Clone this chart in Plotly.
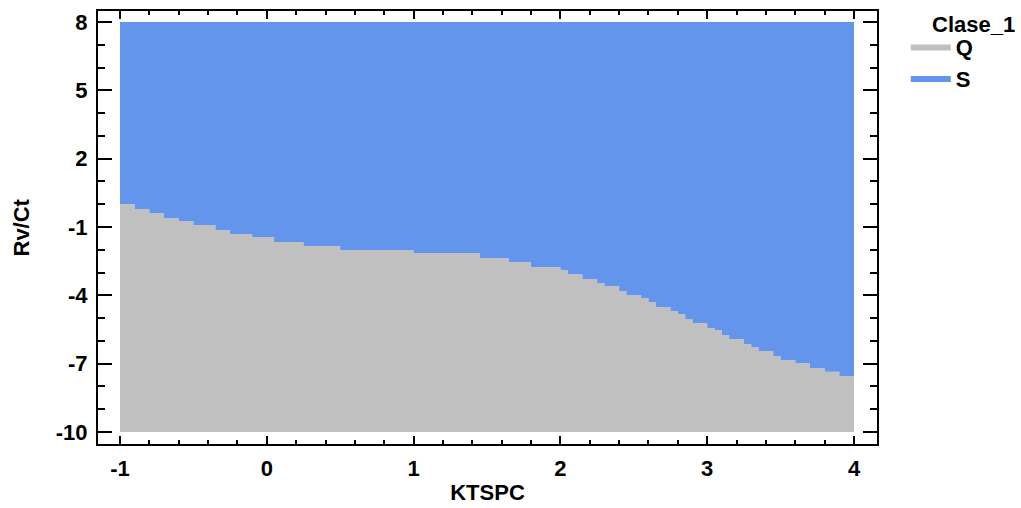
import plotly.graph_objects as go

# Decision boundary between classes (step edges along KTSPC, boundary Rv/Ct per step)
x_edges = [-1.0, -0.9, -0.8, -0.7, -0.6, -0.5, -0.35, -0.25, -0.1, 0.05, 0.25, 0.5, 1.0,
           1.45, 1.65, 1.8, 2.0, 2.05, 2.15, 2.25, 2.3, 2.4, 2.45, 2.55, 2.6, 2.65, 2.75,
           2.8, 2.85, 2.9, 3.0, 3.05, 3.1, 3.15, 3.25, 3.3, 3.35, 3.45, 3.5, 3.6, 3.7,
           3.8, 3.9, 4.0]
y_bound = [0.01, -0.21, -0.38, -0.60, -0.74, -0.91, -1.13, -1.31, -1.44, -1.66, -1.83,
           -2.01, -2.14, -2.36, -2.54, -2.76, -2.89, -3.06, -3.28, -3.46, -3.59, -3.81,
           -3.98, -4.12, -4.29, -4.51, -4.69, -4.82, -5.04, -5.21, -5.43, -5.52, -5.74,
           -5.92, -6.14, -6.27, -6.44, -6.66, -6.84, -6.97, -7.19, -7.36, -7.54]
x_min, x_max = -1.0, 4.0
y_min, y_max = -10.0, 8.0
classes = ["Q", "S"]
colors = {"Q": "#c0c0c0", "S": "#6495ed"}
x_ticks = [-1, 0, 1, 2, 3, 4]
y_ticks = [-10, -7, -4, -1, 2, 5, 8]

# Build step path of boundary
step_x, step_y = [], []
for i, yb in enumerate(y_bound):
    step_x += [x_edges[i], x_edges[i + 1]]
    step_y += [yb, yb]

fig = go.Figure()
# Q region: below boundary
fig.add_trace(go.Scatter(
    x=step_x + [x_max, x_min], y=step_y + [y_min, y_min],
    fill="toself", fillcolor=colors["Q"], mode="lines",
    line=dict(width=0, color=colors["Q"]), name="<b>" + classes[0] + "</b>",
    legendgroup="q", hoverinfo="skip"))
# S region: above boundary
fig.add_trace(go.Scatter(
    x=step_x + [x_max, x_min], y=step_y + [y_max, y_max],
    fill="toself", fillcolor=colors["S"], mode="lines",
    line=dict(width=0, color=colors["S"]), name="<b>" + classes[1] + "</b>",
    legendgroup="s", hoverinfo="skip"))

font_family = "Liberation Sans, Arial, sans-serif"
fs = 22
fig.update_layout(
    width=1021, height=508,
    margin=dict(l=98, r=144, t=11, b=64),
    plot_bgcolor="white", paper_bgcolor="white",
    font=dict(family=font_family, color="black", size=fs),
    legend=dict(
        x=1.037, y=0.966, xanchor="left", yanchor="top",
        font=dict(size=fs), itemwidth=40, tracegroupgap=0,
    ),
    annotations=[
        dict(text="<b>Clase_1</b>", xref="paper", yref="paper",
             x=1.0 + (930 - 877) / 779, y=1.0 + (11 - 24) / 433,
             xanchor="left", yanchor="middle", showarrow=False,
             font=dict(size=fs, family=font_family, color="black")),
        dict(text="<b>Rv/Ct</b>", xref="paper", yref="paper",
             x=(21 - 98) / 779, y=0.5, textangle=-90,
             xanchor="center", yanchor="middle", showarrow=False,
             font=dict(size=fs, family=font_family, color="black")),
    ],
    xaxis=dict(
        range=[-1.1499, 4.1567], tickvals=x_ticks,
        ticktext=["<b>%d</b>" % v for v in x_ticks],
        ticks="inside", ticklen=8, tickwidth=2, tickcolor="black",
        minor=dict(dtick=0.2, ticks="inside", ticklen=4, tickwidth=2, tickcolor="black"),
        showline=True, linewidth=2, linecolor="black", mirror="allticks",
        showgrid=False, zeroline=False, ticklabelstandoff=4, automargin=False,
        title=dict(text="<b>KTSPC</b>", font=dict(size=fs), standoff=4),
    ),
    yaxis=dict(
        range=[-10.527, 8.483], tickvals=y_ticks,
        ticktext=["<b>%d</b>" % v for v in y_ticks],
        ticks="inside", ticklen=14, tickwidth=2, tickcolor="black",
        minor=dict(tick0=-10, dtick=1, ticks="inside", ticklen=7, tickwidth=2, tickcolor="black"),
        showline=True, linewidth=2, linecolor="black", mirror="allticks",
        showgrid=False, zeroline=False, ticklabelstandoff=4, automargin=False,
    ),
)

fig.write_html("out.html")
